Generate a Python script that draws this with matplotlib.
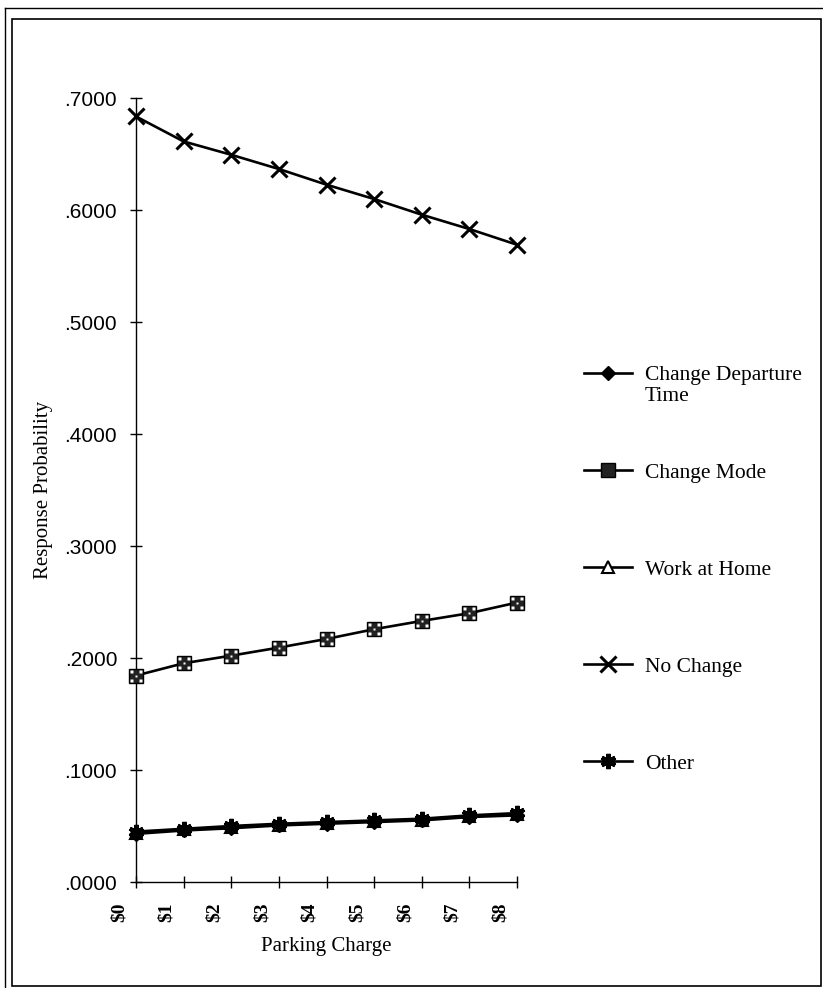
import matplotlib
matplotlib.use("Agg")
import matplotlib.pyplot as plt
import matplotlib.transforms as mtransforms
from matplotlib.lines import Line2D
from matplotlib.patches import Rectangle
from matplotlib.path import Path
import numpy as np

# Parking charge categories
charges = ["$0", "$1", "$2", "$3", "$4", "$5", "$6", "$7", "$8"]

# Response probabilities by parking charge
depart_time = [0.0430, 0.0460, 0.0480, 0.0505, 0.0520, 0.0535, 0.0550, 0.0580, 0.0595]
change_mode = [0.1843, 0.1953, 0.2021, 0.2093, 0.2170, 0.2257, 0.2331, 0.2400, 0.2495]
work_home = [0.0440, 0.0470, 0.0490, 0.0512, 0.0528, 0.0543, 0.0558, 0.0588, 0.0605]
no_change = [0.6835, 0.6612, 0.6493, 0.6366, 0.6226, 0.6098, 0.5958, 0.5830, 0.5690]
other = [0.0450, 0.0475, 0.0500, 0.0520, 0.0535, 0.0550, 0.0565, 0.0595, 0.0615]

yticks = [0.0, 0.1, 0.2, 0.3, 0.4, 0.5, 0.6, 0.7]

serif = "Liberation Serif"
sans = "Liberation Sans"

W, H = 823, 988
fig = plt.figure(figsize=(W / 100, H / 100), dpi=100)
ax = fig.add_axes([136 / W, 1 - 882 / H, (517 - 136) / W, (882 - 98) / H])

x = np.arange(len(charges))
lw = 1.9

# dotted pattern on the square marker
dots = [Path.unit_rectangle().transformed(
    mtransforms.Affine2D().scale(0.16).translate(cx - 0.08, cy - 0.08))
    for cx, cy in [(-0.28, -0.28), (0.28, -0.28), (-0.28, 0.28), (0.28, 0.28), (0, 0)]]
dot_marker = Path.make_compound_path(*dots)

ax.plot(x, work_home, color="black", lw=lw, marker="^", ms=8,
        mfc="white", mec="black", mew=1.5, zorder=3, clip_on=False)
ax.plot(x, depart_time, color="black", lw=lw, marker="D", ms=7,
        mfc="black", mec="black", zorder=4, clip_on=False)
ax.plot(x, other, color="black", lw=lw, marker=(6, 2, 0), ms=11,
        mec="black", mew=3, zorder=5, clip_on=False)
ax.plot(x, change_mode, color="black", lw=lw, marker="s", ms=10,
        mfc="#222222", mec="black", zorder=4, clip_on=False)
ax.plot(x, change_mode, lw=0, marker=dot_marker, ms=8,
        mfc="white", mec="none", zorder=5, clip_on=False)
ax.plot(x, no_change, color="black", lw=lw, marker="x", ms=11,
        mec="black", mew=2.2, zorder=4, clip_on=False)

ax.set_xlim(0, 8)
ax.set_ylim(0, 0.7)
ax.spines["top"].set_visible(False)
ax.spines["right"].set_visible(False)
ax.spines["left"].set_linewidth(1.0)
ax.spines["bottom"].set_linewidth(1.0)

ax.set_yticks(yticks)
ax.set_yticklabels(["." + f"{v:.4f}".split(".")[1] for v in yticks],
                   fontfamily=sans, fontsize=15)
ax.set_xticks(x)
ax.set_xticklabels(charges, rotation=90, fontfamily=serif, fontsize=14,
                   fontweight="bold", va="top")
ax.tick_params(axis="both", direction="inout", length=9, width=1.0)
ax.tick_params(axis="x", pad=10)
ax.tick_params(axis="y", pad=9)

shift = mtransforms.ScaledTranslation(-17 / 100, 0, fig.dpi_scale_trans)
for lbl in ax.get_xticklabels():
    lbl.set_transform(lbl.get_transform() + shift)

ax.set_xlabel("Parking Charge", fontfamily=serif, fontsize=15, labelpad=11)
ax.set_ylabel("Response Probability", fontfamily=serif, fontsize=15, labelpad=8)

handles = [
    Line2D([], [], color="black", lw=lw, marker="D", ms=7, mfc="black"),
    Line2D([], [], color="black", lw=lw, marker="s", ms=10, mfc="#222222"),
    Line2D([], [], color="black", lw=lw, marker="^", ms=8, mfc="white", mew=1.5),
    Line2D([], [], color="black", lw=lw, marker="x", ms=11, mew=2.2),
    Line2D([], [], color="black", lw=lw, marker=(6, 2, 0), ms=11, mew=3),
]
labels = ["Change Departure", "Change Mode", "Work at Home", "No Change", "Other"]
leg = fig.legend(handles, labels, loc="upper left", bbox_to_anchor=(565 / W, 1 - 346 / H),
                 frameon=False, handlelength=2.2, handletextpad=0.6, labelspacing=3.58,
                 prop={"family": serif, "size": 15.5})

# second line of the first legend label
fig.canvas.draw()
first = leg.get_texts()[0].get_window_extent()
fig.text(first.x0 / W, (first.y0 - 21) / H, "Time", fontfamily=serif, fontsize=15.5,
         ha="left", va="bottom")

# chart frame
fig.add_artist(Rectangle((12 / W, 1 - 986 / H), (821 - 12) / W, (986 - 19) / H,
                         transform=fig.transFigure, fill=False, ec="black", lw=1.2))
fig.add_artist(Line2D([5 / W, 5 / W], [0, 1 - 8 / H], transform=fig.transFigure,
                      color="black", lw=1.0))
fig.add_artist(Line2D([5 / W, 1], [1 - 8 / H, 1 - 8 / H], transform=fig.transFigure,
                      color="black", lw=1.0))

fig.savefig("out.png", dpi=100)
